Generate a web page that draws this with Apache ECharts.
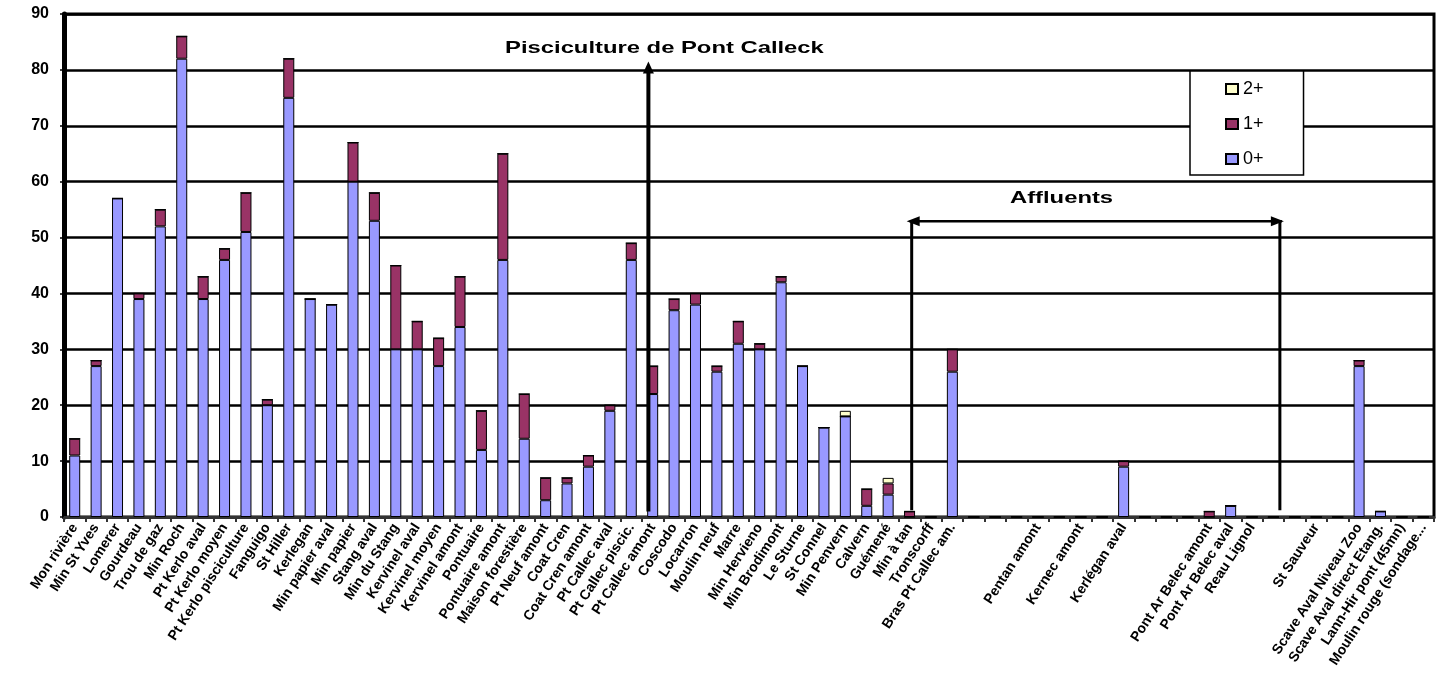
<!DOCTYPE html>
<html>
<head>
<meta charset="utf-8">
<script src="https://cdn.jsdelivr.net/npm/echarts@6/dist/echarts.min.js"></script>
<style>
  html, body { margin: 0; padding: 0; background: #fff; }
  #chart { width: 1449px; height: 675px; }
</style>
</head>
<body>
<div id="chart"></div>
<script>
const categories = [
  'Mon rivière', 'Min St Yves', 'Lomerer', 'Gourdeau', 'Trou de gaz', 'Min Roch',
  'Pt Kerlo aval', 'Pt Kerlo moyen', 'Pt Kerlo pisciculture', 'Fanguigo', 'St Hiller',
  'Kerlegan', 'Min papier aval', 'Min papier', 'Stang aval', 'Min du Stang',
  'Kervinel aval', 'Kervinel moyen', 'Kervinel amont', 'Pontuaire', 'Pontuaire amont',
  'Maison forestière', 'Pt Neuf amont', 'Coat Cren', 'Coat Cren amont', 'Pt Callec aval',
  'Pt Callec piscic.', 'Pt Callec amont', 'Coscodo', 'Locarron', 'Moulin neuf', 'Marre',
  'Min Hervieno', 'Min Brodimont', 'Le Sturne', 'St Connel', 'Min Penvern', 'Calvern',
  'Guémené', 'Min à tan', 'Tronscorff', 'Bras Pt Callec am.',
  '', '', '', 'Pentan amont', '', 'Kernec amont', '', 'Kerlégan aval', '', '', '',
  'Pont Ar Belec amont', 'Pont Ar Belec aval', 'Reau Lignol', '', '', 'St Sauveur', '',
  'Scave Aval Niveau Zoo', 'Scave Aval direct Etang.', 'Lann-Hir pont (45mn)',
  'Moulin rouge (sondage...'
];

// 0+ (bottom), 1+ (middle), 2+ (top)
const ageZero = [
  11, 27, 57, 39, 52, 82, 39, 46, 51, 20, 75, 39, 38, 60, 53, 30, 30, 27, 34, 12, 46,
  14, 3, 6, 9, 19, 46, 22, 37, 38, 26, 31, 30, 42, 27, 16, 18, 2, 4, 0, 0, 26,
  0, 0, 0, 0, 0, 0, 0, 9, 0, 0, 0, 0, 2, 0, 0, 0, 0, 0, 27, 1, 0, 0
];
const ageOne = [
  3, 1, 0, 1, 3, 4, 4, 2, 7, 1, 7, 0, 0, 7, 5, 15, 5, 5, 9, 7, 19,
  8, 4, 1, 2, 1, 3, 5, 2, 2, 1, 4, 1, 1, 0, 0, 0, 3, 2, 1, 0, 4,
  0, 0, 0, 0, 0, 0, 0, 1, 0, 0, 0, 1, 0, 0, 0, 0, 0, 0, 1, 0, 0, 0
];
const ageTwo = [
  0, 0, 0, 0, 0, 0, 0, 0, 0, 0, 0, 0, 0, 0, 0, 0, 0, 0, 0, 0, 0,
  0, 0, 0, 0, 0, 0, 0, 0, 0, 0, 0, 0, 0, 0, 0, 1, 0, 1, 0, 0, 0,
  0, 0, 0, 0, 0, 0, 0, 0, 0, 0, 0, 0, 0, 0, 0, 0, 0, 0, 0, 0, 0, 0
];

const FONT = "'Liberation Sans', Arial, sans-serif";
const colors = { zero: '#9999ff', one: '#993366', two: '#ffffcc' };

const chart = echarts.init(document.getElementById('chart'));

function barSeries(name, data, color) {
  return {
    name: name,
    type: 'bar',
    stack: 'ages',
    barWidth: 11,
    data: data,
    itemStyle: { color: color, borderColor: '#000', borderWidth: 1 },
  };
}

chart.setOption({
  animation: false,
  grid: {
    left: 64, right: 15, top: 14, bottom: 158,
    show: true, borderColor: '#000', borderWidth: 3,
  },
  legend: {
    orient: 'vertical',
    left: 1190,
    top: 71,
    data: ['2+', '1+', '0+'],
    icon: 'rect',
    itemWidth: 12,
    itemHeight: 10,
    itemGap: 17,
    padding: [9, 40, 7, 35],
    backgroundColor: '#fff',
    borderColor: '#000',
    borderWidth: 1.5,
    textStyle: { fontFamily: FONT, fontSize: 18, color: '#000', lineHeight: 16 },
  },
  xAxis: {
    type: 'category',
    data: categories,
    axisLine: { lineStyle: { color: '#333', width: 3 } },
    axisTick: { show: true, length: 5, lineStyle: { color: '#333', width: 2 } },
    axisLabel: {
      interval: 0,
      rotate: 57,
      margin: 8,
      color: '#000',
      fontFamily: FONT,
      fontWeight: 'bold',
      fontSize: 14,
    },
  },
  yAxis: {
    type: 'value',
    min: 0,
    max: 90,
    interval: 10,
    axisLine: { show: true, lineStyle: { color: '#000', width: 5 } },
    axisTick: { show: true, length: 4, lineStyle: { color: '#000', width: 1.5 } },
    axisLabel: { color: '#000', fontFamily: FONT, fontWeight: 'bold', fontSize: 16, margin: 15 },
    splitLine: { lineStyle: { color: '#000', width: 2.5 } },
  },
  series: [
    barSeries('0+', ageZero, colors.zero),
    barSeries('1+', ageOne, colors.one),
    barSeries('2+', ageTwo, colors.two),
  ],
});

// annotations, placed in data space (category index, value)
const piscArrow = { idx: 26.8, from: 1, to: 81.5 };
const piscLabel = { idx: 27.55, val: 83.8, text: 'Pisciculture de Pont Calleck' };
const affluents = { left: 39.1, right: 56.3, val: 52.9, bottom: 1.2 };
const affluentsLabel = { idx: 46.1, val: 57.1, text: 'Affluents' };

function toPx(idx, val) {
  const i0 = Math.floor(idx);
  const f = idx - i0;
  const a = chart.convertToPixel({ gridIndex: 0 }, [i0, val]);
  const b = chart.convertToPixel({ gridIndex: 0 }, [i0 + 1, val]);
  return [a[0] + (b[0] - a[0]) * f, a[1]];
}

function line(p1, p2, w) {
  return {
    type: 'line', z: 10,
    shape: { x1: p1[0], y1: p1[1], x2: p2[0], y2: p2[1] },
    style: { stroke: '#000', lineWidth: w },
  };
}

function head(points) {
  return { type: 'polygon', z: 10, shape: { points: points }, style: { fill: '#000' } };
}

function label(cfg, size, sx) {
  const p = toPx(cfg.idx, cfg.val);
  return {
    type: 'text', z: 10, x: p[0], y: p[1], scaleX: sx,
    style: {
      text: cfg.text, align: 'center', verticalAlign: 'middle',
      font: 'bold ' + size + 'px ' + FONT, fill: '#000',
    },
  };
}

const g = [];
// Pisciculture arrow (vertical, pointing up)
const pb = toPx(piscArrow.idx, piscArrow.from);
const pt = toPx(piscArrow.idx, piscArrow.to);
g.push(line(pb, [pt[0], pt[1] + 10], 4));
g.push(head([[pt[0], pt[1]], [pt[0] - 5.5, pt[1] + 12], [pt[0] + 5.5, pt[1] + 12]]));
g.push(label(piscLabel, 17, 1.4));

// Affluents double arrow and brackets
const al = toPx(affluents.left, affluents.val);
const ar = toPx(affluents.right, affluents.val);
const alb = toPx(affluents.left, affluents.bottom);
const arb = toPx(affluents.right, affluents.bottom);
g.push(line([al[0] - 2, al[1]], [ar[0] + 2, ar[1]], 2.5));
g.push(head([[al[0] - 5, al[1]], [al[0] + 8, al[1] - 5], [al[0] + 8, al[1] + 5]]));
g.push(head([[ar[0] + 4, ar[1]], [ar[0] - 9, ar[1] - 5], [ar[0] - 9, ar[1] + 5]]));
g.push(line(al, alb, 3));
g.push(line(ar, arb, 3));
g.push(label(affluentsLabel, 17, 1.4));

chart.setOption({ graphic: g });
</script>
</body>
</html>
